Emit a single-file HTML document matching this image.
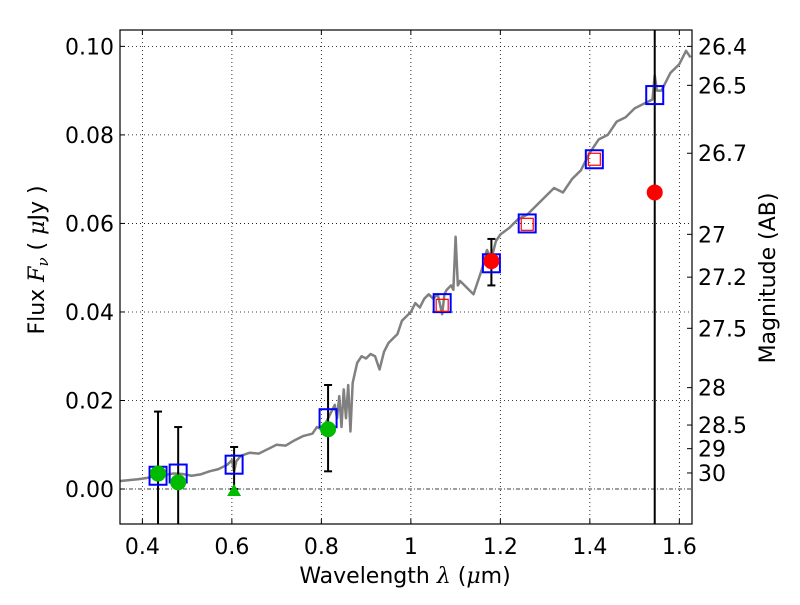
<!DOCTYPE html>
<html><head><meta charset="utf-8"><style>
body{margin:0;background:#fff}
svg text{font-family:"DejaVu Sans","Liberation Sans",sans-serif;fill:#000}
</style></head><body>
<svg id="chart" width="800" height="600">
<g id="grid"></g>
<g id="spec"></g>
<g id="marks"></g>
<g id="axes"></g>
<text x="405" y="583" font-size="22" text-anchor="middle">Wavelength  <tspan font-family="DejaVu Serif" font-style="italic">λ</tspan> (<tspan font-family="DejaVu Serif" font-style="italic">μ</tspan>m)</text>
<text transform="translate(44,260) rotate(-90)" font-size="22" text-anchor="middle">Flux  <tspan font-family="DejaVu Serif" font-style="italic">F</tspan><tspan font-family="DejaVu Serif" font-style="italic" font-size="15" dy="4">ν</tspan><tspan dy="-4">  (  </tspan><tspan font-family="DejaVu Serif" font-style="italic">μ</tspan>Jy )</text>
<text transform="translate(775,278) rotate(-90)" font-size="22" text-anchor="middle">Magnitude (AB)</text>
</svg>
<script>
const xTicks=[0.4,0.6,0.8,1.0,1.2,1.4,1.6];
const xTickLabels=["0.4","0.6","0.8","1","1.2","1.4","1.6"];
const yTicks=[0,0.02,0.04,0.06,0.08,0.10];
const yTickLabels=["0.00","0.02","0.04","0.06","0.08","0.10"];
const magTicks=[26.4,26.5,26.7,27,27.2,27.5,28,28.5,29,30];
const magTickLabels=["26.4","26.5","26.7","27","27.2","27.5","28","28.5","29","30"];
const specWave=[0.35,0.37,0.39,0.41,0.43,0.45,0.47,0.49,0.51,0.53,0.55,0.57,0.59,0.60,0.605,0.61,0.62,0.64,0.66,0.68,0.70,0.72,0.74,0.76,0.78,0.79,0.80,0.81,0.82,0.83,0.835,0.84,0.845,0.85,0.855,0.86,0.865,0.87,0.88,0.89,0.90,0.91,0.92,0.93,0.94,0.95,0.96,0.97,0.98,0.99,1.00,1.01,1.02,1.03,1.04,1.05,1.06,1.07,1.075,1.08,1.09,1.095,1.10,1.105,1.11,1.12,1.13,1.14,1.15,1.16,1.17,1.18,1.19,1.20,1.22,1.24,1.26,1.28,1.30,1.32,1.34,1.36,1.38,1.40,1.42,1.44,1.46,1.48,1.50,1.52,1.54,1.545,1.55,1.56,1.58,1.60,1.615,1.625];
const specFlux=[0.0018,0.0020,0.0022,0.0025,0.0030,0.0032,0.0035,0.0034,0.0030,0.0033,0.0040,0.0045,0.0055,0.0065,0.0040,0.0063,0.0075,0.0082,0.0080,0.0090,0.0100,0.0098,0.0110,0.0120,0.0125,0.0140,0.0135,0.0150,0.0170,0.0190,0.0160,0.0210,0.0140,0.0225,0.0160,0.0235,0.0130,0.0240,0.0285,0.0300,0.0295,0.0305,0.0300,0.0270,0.0310,0.0330,0.0340,0.0350,0.0380,0.0390,0.0400,0.0420,0.0410,0.0430,0.0440,0.0430,0.0440,0.0395,0.0440,0.0450,0.0460,0.0450,0.0570,0.0460,0.0470,0.0460,0.0450,0.0440,0.0470,0.0500,0.0540,0.0520,0.0560,0.0575,0.0590,0.0610,0.0620,0.0640,0.0660,0.0680,0.0670,0.0700,0.0720,0.0760,0.0790,0.0800,0.0830,0.0840,0.0860,0.0870,0.0880,0.0935,0.0900,0.0900,0.0940,0.0960,0.0990,0.0975];
const sqWave=[0.435,0.48,0.605,0.815,1.07,1.18,1.26,1.41,1.545];
const sqFlux=[0.003,0.0035,0.0055,0.016,0.042,0.051,0.060,0.0745,0.089];
const redSqWave=[1.07,1.26,1.41];
const redSqFlux=[0.0415,0.0598,0.0745];
const greenWave=[0.435,0.48,0.815];
const greenFlux=[0.0035,0.0015,0.0135];
const triWave=[0.605];
const triFlux=[0.0];
const redDotWave=[1.18,1.545];
const redDotFlux=[0.0515,0.067];
const errWave=[0.435,0.48,0.605,0.815,1.18,1.545];
const errLow=[-0.02,-0.02,0.0,0.004,0.046,-0.02];
const errHigh=[0.0175,0.014,0.0095,0.0235,0.0565,0.2];
const L=120,R=692,T=30,B=524;
const xMin=0.35,xMax=1.6283,yMin=-0.0079,yMax=0.1037;
const X=v=>L+(v-xMin)/(xMax-xMin)*(R-L);
const Y=v=>B-(v-yMin)/(yMax-yMin)*(B-T);
const NS="http://www.w3.org/2000/svg";
function mk(tag,parent,attrs){const e=document.createElementNS(NS,tag);for(const k in attrs)e.setAttribute(k,attrs[k]);document.getElementById(parent).appendChild(e);return e;}
const defs=document.createElementNS(NS,"defs");defs.innerHTML='<clipPath id="cp"><rect x="120" y="30" width="572" height="494"/></clipPath>';document.getElementById("chart").prepend(defs);
document.getElementById("spec").setAttribute("clip-path","url(#cp)");
document.getElementById("marks").setAttribute("clip-path","url(#cp)");
xTicks.forEach((t,i)=>{const x=X(t);
 const g=mk("line","grid",{x1:x,x2:x,y1:T,y2:B,stroke:"#000","stroke-width":0.8,"stroke-dasharray":"1,3"});
 
 const tk=mk("line","axes",{x1:x,x2:x,y1:B,y2:B-5,stroke:"#000"});
 
 const tk2=mk("line","axes",{x1:x,x2:x,y1:T,y2:T+5,stroke:"#000"});
 
 const tx=mk("text","axes",{x:x,y:B+30,"font-size":22,"text-anchor":"middle"});tx.textContent=xTickLabels[i];
 
});
yTicks.forEach((t,i)=>{const y=Y(t);
 const g=mk("line","grid",{x1:L,x2:R,y1:y,y2:y,stroke:"#000","stroke-width":0.8,"stroke-dasharray":t===0?"4,2,1,2":"1,3"});
 
 const tk=mk("line","axes",{x1:L,x2:L+5,y1:y,y2:y,stroke:"#000"});
 
 const tx=mk("text","axes",{x:L-6,y:y+8,"font-size":22,"text-anchor":"end"});tx.textContent=yTickLabels[i];
 
});
magTicks.forEach((m,i)=>{const f=Math.pow(10,(23.9-m)/2.5);const y=Y(f);
 const tk=mk("line","axes",{x1:R,x2:R-5,y1:y,y2:y,stroke:"#000"});
 
 const tx=mk("text","axes",{x:R+6,y:y+8,"font-size":22});tx.textContent=magTickLabels[i];
 
});
const sp=mk("polyline","spec",{points:specWave.map((w,i)=>X(w)+","+Y(specFlux[i])).join(" "),fill:"none",stroke:"#808080","stroke-width":2.5,"stroke-linejoin":"round"});

errWave.forEach((w,i)=>{const x=X(w),y1=Y(errLow[i]),y2=Y(errHigh[i]);
 const e=mk("line","marks",{x1:x,x2:x,y1:y1,y2:y2,stroke:"#000","stroke-width":2});
 
 [y1,y2].forEach(y=>{const c=mk("line","marks",{x1:x-4,x2:x+4,y1:y,y2:y,stroke:"#000","stroke-width":2});
  });
});
sqWave.forEach((w,i)=>{const s=mk("rect","marks",{x:X(w)-8.5,y:Y(sqFlux[i])-9,width:17,height:18,fill:"none",stroke:"#0000ff","stroke-width":2});
 });
redSqWave.forEach((w,i)=>{const s=mk("rect","marks",{x:X(w)-6,y:Y(redSqFlux[i])-6,width:12,height:12,fill:"none",stroke:"#ff0000","stroke-width":1.2});
 });
greenWave.forEach((w,i)=>{const c=mk("circle","marks",{cx:X(w),cy:Y(greenFlux[i]),r:8,fill:"#00bb00"});
 });
triWave.forEach((w,i)=>{const x=X(w),y=Y(triFlux[i]);const t=mk("polygon","marks",{points:`${x},${y-5} ${x-7},${y+7} ${x+7},${y+7}`,fill:"#00bb00"});
 });
redDotWave.forEach((w,i)=>{const c=mk("circle","marks",{cx:X(w),cy:Y(redDotFlux[i]),r:8,fill:"#ff0000"});
 });
const fr=mk("rect","axes",{x:L,y:T,width:R-L,height:B-T,fill:"none",stroke:"#000","stroke-width":1.2});

</script>
</body></html>
